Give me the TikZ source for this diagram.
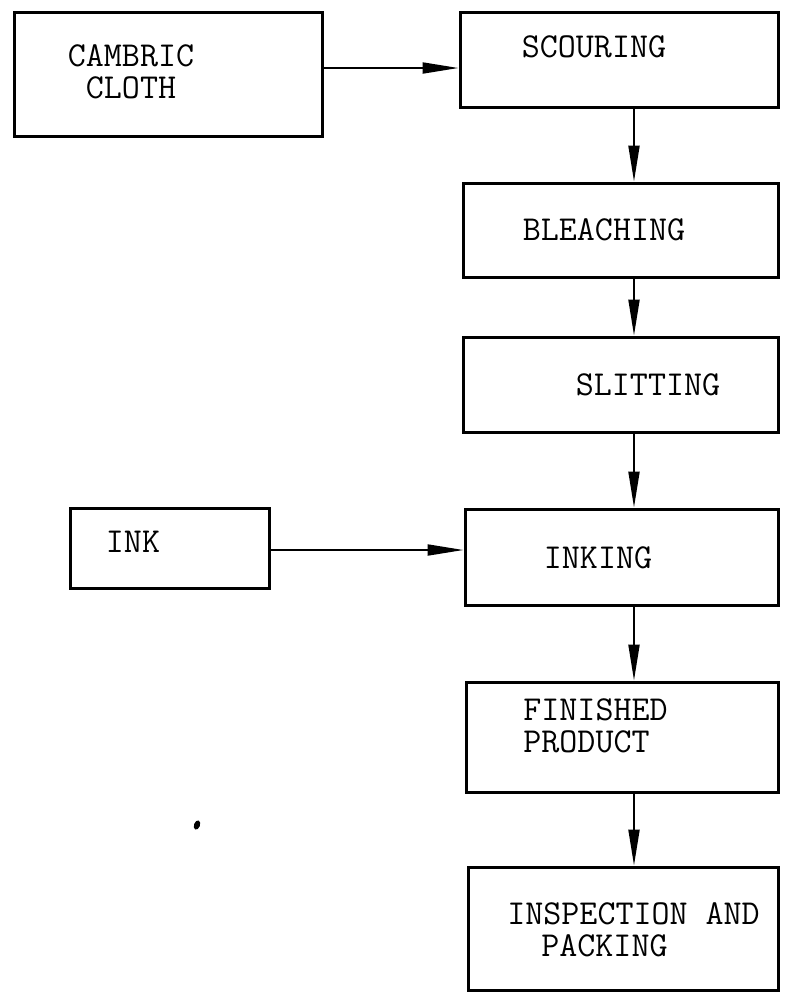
\documentclass[tikz,border=0pt]{standalone}
\usepackage{fontspec}
\usetikzlibrary{arrows.meta}

\begin{document}
\begin{tikzpicture}[x=0.5pt, y=-0.5pt,
  font=\ttfamily\fontsize{17.5}{16}\selectfont,
  stage/.style={draw, line width=1.5pt, inner sep=0pt},
  flow/.style={-{Triangle[length=18pt, width=5.5pt]}, line width=1pt}]
  \useasboundingbox (0,0) rectangle (784,993);
  % boxes
  \node[stage, minimum width=154pt, minimum height=62pt] (cloth) at (168,74) {};
  \node[stage, minimum width=159pt, minimum height=47.5pt] (scour) at (619,59.5) {};
  \node[stage, minimum width=157.5pt, minimum height=47pt] (bleach) at (620.5,230) {};
  \node[stage, minimum width=157.5pt, minimum height=47.5pt] (slit) at (620.5,384.5) {};
  \node[stage, minimum width=99.5pt, minimum height=40pt] (ink) at (169.5,548) {};
  \node[stage, minimum width=156.5pt, minimum height=48pt] (inking) at (621.5,557) {};
  \node[stage, minimum width=156pt, minimum height=55pt] (fin) at (622,737) {};
  \node[stage, minimum width=155pt, minimum height=61.5pt] (insp) at (623,928.5) {};
  % labels
  \node[align=center] (clothT) at (131,72) {CAMBRIC\\CLOTH};
  \node (scourT) at (594,47) {SCOURING};
  \node (bleachT) at (604,230) {BLEACHING};
  \node (slitT) at (648,385) {SLITTING};
  \node (inkT) at (133,542) {INK};
  \node (inkingT) at (598,558) {INKING};
  \node[anchor=west, align=left, inner sep=0pt] (finT) at (523,726) {FINISHED\\PRODUCT};
  \node[anchor=west, align=left, inner sep=0pt] (inspT) at (507,930)
     {INSPECTION AND\\\hspace*{17pt}PACKING};
  % connectors
  \coordinate (ax) at (634,0);
  \coordinate (ay) at (0,68);
  \draw[flow] (cloth.east |- ay) -- (scour.west |- ay);
  \draw[flow] (ink.east |- 0,550) -- (inking.west |- 0,550);
  \foreach \a/\b in {scour/bleach, bleach/slit, slit/inking, inking/fin, fin/insp}{
    \draw[flow] (\a.south -| ax) -- (\b.north -| ax);
  }
  % stray mark
  \fill[rotate around={-20:(197,825)}] (197,825) ellipse (1.5pt and 2.4pt);
\end{tikzpicture}
\end{document}
